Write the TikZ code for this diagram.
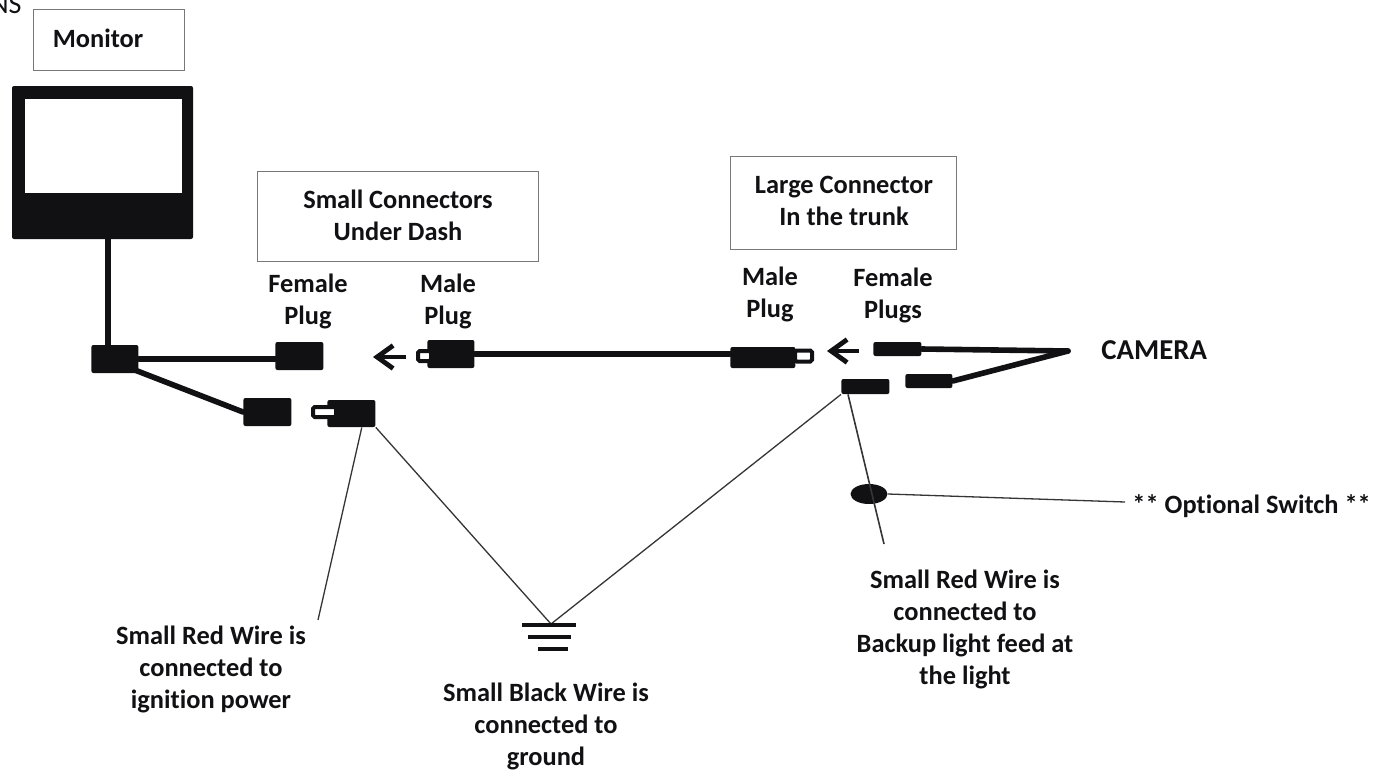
\documentclass[tikz,border=0pt]{standalone}
\usepackage{fontspec}
\setmainfont{Carlito}[Ligatures=NoCommon]
\usetikzlibrary{arrows.meta,shapes.geometric}
\definecolor{ink}{HTML}{111114}
\definecolor{boxline}{HTML}{77787A}
\tikzset{
  x=0.5pt,y=-0.5pt,
  lbl/.style={font=\fontsize{13.2}{16}\selectfont\bfseries,text=ink,align=center,inner sep=0pt},
  labelbox/.style={draw=boxline,line width=0.5pt,fill=white,inner sep=0pt},
  plug/.style={fill=ink,draw=none,rounded corners=1pt,inner sep=0pt},
  tipbox/.style={fill=white,draw=ink,line width=2pt,rounded corners=0.8pt,inner sep=0pt},
  wire/.style={draw=ink,line width=2.8pt,line cap=round},
  thinwire/.style={draw=ink!85!white,line width=0.65pt},
  groundbar/.style={draw=ink,line width=1.6pt},
  pointer/.style={draw=ink,line width=2.4pt,-{Straight Barb[length=8pt,width=11.5pt,line width=2.4pt]}},
}
\newcommand{\boxat}[6][plug]{\node[#1,minimum width=#5*0.5pt-#4*0.5pt,minimum height=#3*0.5pt,anchor=west] (#2) at (#4,#6) {};}
\begin{document}
\begin{tikzpicture}
\useasboundingbox (0,0) rectangle (1377,771);
\fill[white] (0,0) rectangle (1377,771);
% labels in boxes
\node[labelbox,minimum width=75.5pt,minimum height=30.5pt] (monitorbox) at (108.5,39.5) {};
\node[lbl] (monitorlabel) at (98,38) {Monitor};
\node[labelbox,minimum width=140.5pt,minimum height=45pt] (smallbox) at (397.5,216) {};
\node[lbl] (smalllabel) at (398,215) {Small Connectors\\Under Dash};
\node[labelbox,minimum width=113pt,minimum height=46.5pt] (largebox) at (843,202.5) {};
\node[lbl] (largelabel) at (844,201) {Large Connector\\In the trunk};
\node[text=ink,inner sep=0pt,font=\fontsize{14}{16}\selectfont,anchor=base east] (clipped) at (22,13) {NS};
% monitor
\node[fill=ink,rounded corners=1pt,minimum width=90.5pt,minimum height=76.5pt,inner sep=0pt] (monitor) at (102.5,162.5) {};
\node[fill=white,minimum width=78.5pt,minimum height=47pt,inner sep=0pt] (screen) at (103.5,146) {};
% plugs
\boxat{junction}{28}{91}{138}{359}
\boxat{femaleA}{28}{275}{323}{356}
\boxat{femaleB}{28}{243}{291}{412}
\boxat{maleA}{28}{427}{474}{354}
\boxat{maleB}{27}{327}{375}{413.5}
\boxat{maleC}{21}{730}{795}{357.5}
\boxat[tipbox]{tipA}{10}{416}{429}{356}
\boxat[tipbox]{tipB}{10}{311}{334}{412}
\boxat[tipbox]{tipC}{11}{793}{810}{356}
\boxat{camA}{14}{873}{921}{349}
\boxat{camB}{14}{905}{952}{381}
\boxat{camC}{15}{841}{889}{386.5}
\node[fill=ink,ellipse,minimum width=18.5pt,minimum height=10pt,inner sep=0pt] (switch) at (869,494) {};
% free-end points
\coordinate (camera) at (1068,351);
\coordinate (ignitionend) at (318,620);
\coordinate (backupend) at (884,544);
\coordinate (switchend) at (1125,502);
\coordinate (groundtop) at (551,624);
\coordinate (arrowAstart) at (406,357);
\coordinate (arrowAend) at (373,357);
\coordinate (arrowBstart) at (859,351);
\coordinate (arrowBend) at (827,351);
\coordinate (g1l) at (522,625); \coordinate (g1r) at (576,625);
\coordinate (g2l) at (528,637); \coordinate (g2r) at (571,637);
\coordinate (g3l) at (538,649); \coordinate (g3r) at (568,649);
% heavy wires
\draw[wire] (monitor.south -| junction.north) ++(-7,0) -- ++(0,106);
\draw[wire] (junction.east) -- (femaleA.west |- junction.east);
\draw[wire] (junction.south east) ++(-3,-3) -- (femaleB.west);
\draw[wire] (maleA.east) -- (maleC.west |- maleA.east);
\draw[wire] (camA.east) -- (camera);
\draw[wire] (camB.east) -- (camera);
% pointers
\draw[pointer] (arrowAstart) -- (arrowAend);
\draw[pointer] (arrowBstart) -- (arrowBend);
% thin wires
\draw[thinwire] (maleB.south east) ++(-14,0) -- (ignitionend);
\draw[thinwire] (maleB.south east) -- (groundtop);
\draw[thinwire] (camC.south west) -- (groundtop);
\draw[thinwire,line width=0.8pt] (camC.south west) ++(7,0) -- (backupend);
\draw[thinwire] (switch.east) -- (switchend);
\draw[groundbar] (g1l) -- (g1r);
\draw[groundbar] (g2l) -- (g2r);
\draw[groundbar] (g3l) -- (g3r);
% text
\node[lbl] (femaleplug) at (308,301) {Female\\Plug};
\node[lbl] (maleplug) at (448,301) {Male\\Plug};
\node[lbl] (maleplugB) at (770,294) {Male\\Plug};
\node[lbl] (femaleplugs) at (893,295) {Female\\Plugs};
\node[lbl,font=\fontsize{14.4}{16}\selectfont\bfseries,anchor=west] (cameralabel) at (1101,350) {CAMERA};
\node[lbl,anchor=west] (switchlabel) at (1132,506) {** Optional Switch **};
\node[lbl] (ignition) at (211,669) {Small Red Wire is\\connected to\\ignition power};
\node[lbl] (ground) at (546,726) {Small Black Wire is\\connected to\\ground};
\node[lbl] (backup) at (965,629) {Small Red Wire is\\connected to\\Backup light feed at\\the light};
\end{tikzpicture}
\end{document}
